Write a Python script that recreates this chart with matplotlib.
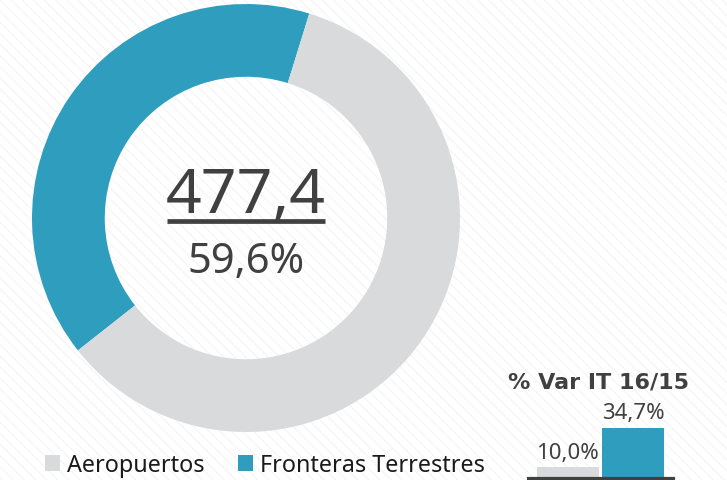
import matplotlib
matplotlib.use('Agg')
import matplotlib.pyplot as plt
from matplotlib.patches import Rectangle

# Datos
categorias = ['Fronteras Terrestres', 'Aeropuertos']
participacion = [40.4, 59.6]
colores = ['#2E9DBE', '#D9DADC']
total_aeropuertos = '477,4'
pct_aeropuertos = '59,6%'

var_labels = ['10,0%', '34,7%']
var_valores = [10.0, 34.7]
titulo_var = '% Var IT 16/15'

texto = '#404040'
W, H = 727, 481


def px_box(x0, y_top, w, h):
    # caja en pixeles (origen arriba-izquierda) -> fracciones de figura
    return [x0 / W, 1 - (y_top + h) / H, w / W, h / H]


plt.rcParams['font.family'] = ['Noto Sans', 'DejaVu Sans']
fig = plt.figure(figsize=(W / 100, H / 100), dpi=100)
fig.patch.set_facecolor('white')

# fondo con rayas diagonales suaves
fondo = fig.add_axes([0, 0, 1, 1], zorder=-10)
fondo.add_patch(Rectangle((0, 0), 1, 1, facecolor='white', edgecolor='#F6F6F6',
                          hatch='\\\\\\', linewidth=0, transform=fondo.transAxes))
fondo.axis('off')

# --------------------------------- donut ---------------------------------
ax = fig.add_axes(px_box(32, 5, 428, 428))
wedges, _ = ax.pie(participacion, colors=colores, startangle=72.8, counterclock=True,
                   radius=1, wedgeprops=dict(width=0.34, linewidth=0))
ax.set_xlim(-1, 1)
ax.set_ylim(-1, 1)
ax.axis('off')

ax.text(0, 0.028, total_aeropuertos, ha='center', va='baseline', fontsize=45, color=texto)
ax.plot([-0.369, 0.369], [-0.014, -0.014], color=texto, linewidth=3.4, solid_capstyle='butt')
ax.text(0, -0.252, pct_aeropuertos, ha='center', va='baseline', fontsize=30, color=texto)

# leyenda
handles = [wedges[1], wedges[0]]
etiquetas = [categorias[1], categorias[0]]
fig.legend(handles, etiquetas, loc='center left', bbox_to_anchor=(45 / W, 1 - 466 / H),
           ncol=2, frameon=False, fontsize=16.8, handlelength=0.66, handleheight=0.66,
           handletextpad=0.3, columnspacing=1.4, borderpad=0, borderaxespad=0,
           labelcolor='#1A1A1A')

# --------------------------------- barras ---------------------------------
k = 50 / (34.7 - 3.8)
alto = (40 - 3.8) * k
axb = fig.add_axes(px_box(528, 478.5 - alto, 145, alto))
axb.bar([0, 1], var_valores, width=0.94, color=[colores[1], colores[0]])
axb.set_xlim(-0.6, 1.6)
axb.set_ylim(3.8, 40)
for s in ['top', 'left', 'right']:
    axb.spines[s].set_visible(False)
axb.spines['bottom'].set_color(texto)
axb.spines['bottom'].set_linewidth(2.3)
axb.set_xticks([])
axb.set_yticks([])
axb.patch.set_alpha(0)
for i, (v, lab) in enumerate(zip(var_valores, var_labels)):
    axb.annotate(lab, (i, v), xytext=(0, 3), textcoords='offset points',
                 ha='center', va='bottom', fontsize=16, color=texto, clip_on=False)

fig.text(598 / W, 1 - 388 / H, titulo_var, ha='center', va='baseline',
         fontsize=16, fontweight='bold', color=texto, family='DejaVu Sans')

fig.savefig('out.png', dpi=100)
